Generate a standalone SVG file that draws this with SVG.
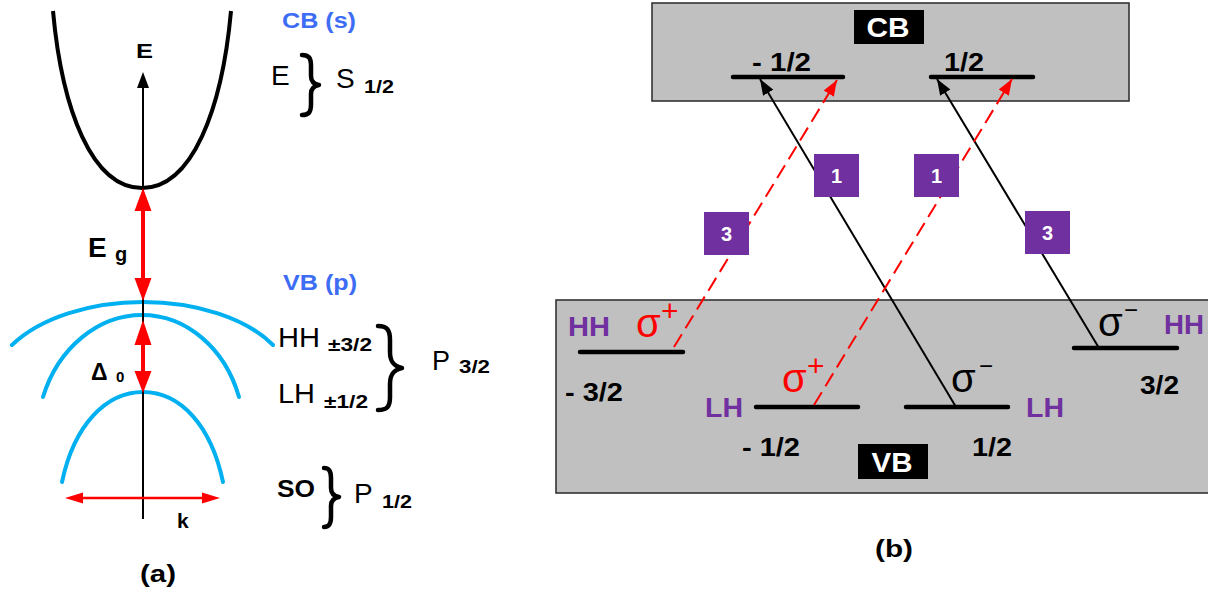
<svg xmlns="http://www.w3.org/2000/svg" width="1208" height="592" viewBox="0 0 1208 592">
<style>
text{font-family:"Liberation Sans",Arial,sans-serif;}
.b{font-weight:bold;}
.blue{fill:#3d6cf5;font-weight:bold;font-size:22px;}
.purple{fill:#7030a0;font-weight:bold;font-size:28px;}
.num{fill:#000;font-weight:bold;font-size:25px;}
.sig{fill:#ff0000;font-size:40px;}
.sigb{fill:#000;font-size:40px;}
.lvl{stroke:#000;stroke-width:4.5;stroke-linecap:round;fill:none;}
.band{fill:#c0c0c0;stroke:#333;stroke-width:1.6;}
.arc{fill:none;stroke:#00b0f0;stroke-width:4;stroke-linecap:round;}
.brace{fill:none;stroke:#000;stroke-width:4.5;stroke-linecap:round;stroke-linejoin:round;}
.blk{stroke:#000;stroke-width:2;fill:none;}
.red{stroke:#ff0000;stroke-width:2;fill:none;stroke-dasharray:15 7;}
.badge{fill:#7030a0;}
.bnum{fill:#fff;font-weight:bold;font-size:20px;text-anchor:middle;}
</style>
<defs>
<marker id="ab" markerUnits="userSpaceOnUse" markerWidth="17" markerHeight="13" refX="16" refY="6" orient="auto"><path d="M0,0 L16,6 L0,12 z" fill="#000"/></marker>
<marker id="ar" markerUnits="userSpaceOnUse" markerWidth="17" markerHeight="13" refX="16" refY="6" orient="auto"><path d="M0,0 L16,6 L0,12 z" fill="#ff0000"/></marker>
</defs>
<rect width="1208" height="592" fill="#fff"/>

<!-- Panel (a) -->
<g id="panel-a">
<g id="cb-curve"><path d="M53,11 C62,110 92,188 142,188 C192,188 222,110 231,11" fill="none" stroke="#000" stroke-width="4"/></g>
<g id="vb-arcs">
<path class="arc" d="M12,345 C40,318 90,302 143,302 C196,302 246,318 273,345"/>
<path class="arc" d="M43,397 C58,348 98,315 142,315 C186,315 225,348 239,397"/>
<path class="arc" d="M62,482 C74,425 106,392 143,392 C180,392 211,425 223,482"/>
</g>
<g id="axis">
<line x1="143" y1="519" x2="143" y2="86" stroke="#000" stroke-width="2"/>
<polygon points="143,72 137,88 149,88" fill="#000"/>
<text class="b" x="136" y="58" font-size="21" textLength="17" lengthAdjust="spacingAndGlyphs">E</text>
</g>
<g id="eg-arrow">
<line x1="143" y1="208" x2="143" y2="280" stroke="#ff0000" stroke-width="4"/>
<polygon points="143,188 134.5,211 151.5,211" fill="#ff0000"/>
<polygon points="143,301 134.5,278 151.5,278" fill="#ff0000"/>
<text class="b" x="88" y="257" font-size="28">E</text>
<text class="b" x="115" y="261" font-size="20">g</text>
</g>
<g id="d0-arrow">
<line x1="143" y1="340" x2="143" y2="375" stroke="#ff0000" stroke-width="4"/>
<polygon points="143,320 134.5,345 151.5,345" fill="#ff0000"/>
<polygon points="143,393 134.5,371 151.5,371" fill="#ff0000"/>
<text class="b" x="91" y="380" font-size="23">Δ</text>
<text class="b" x="116" y="382" font-size="15">0</text>
</g>
<g id="k-arrow">
<line x1="80" y1="498" x2="205" y2="498" stroke="#ff0000" stroke-width="2.5"/>
<polygon points="65,498 83,492.5 83,503.5" fill="#ff0000"/>
<polygon points="220,498 202,492.5 202,503.5" fill="#ff0000"/>
<text class="b" x="177" y="528" font-size="21">k</text>
</g>
<g id="label-cb">
<text class="blue" x="282" y="28" textLength="74" lengthAdjust="spacingAndGlyphs">CB (s)</text>
<text x="271" y="85" font-size="28">E</text>
<path class="brace" d="M302,55 C309,55 311,58 311,66 L311,76 C311,81 313,84 319,85 C313,86 311,89 311,94 L311,104 C311,112 309,115 302,115"/>
<text x="336" y="88" font-size="28">S</text>
<text class="b" x="364" y="93" font-size="18" textLength="30" lengthAdjust="spacingAndGlyphs">1/2</text>
</g>
<g id="label-vb">
<text class="blue" x="283" y="290" textLength="74" lengthAdjust="spacingAndGlyphs">VB (p)</text>
</g>
<g id="label-hh-lh">
<text x="278" y="347" font-size="28" textLength="42" lengthAdjust="spacingAndGlyphs">HH</text>
<text class="b" x="328" y="351" font-size="18" textLength="44" lengthAdjust="spacingAndGlyphs">±3/2</text>
<text x="278" y="403" font-size="27" textLength="37" lengthAdjust="spacingAndGlyphs">LH</text>
<text class="b" x="324" y="408" font-size="18" textLength="44" lengthAdjust="spacingAndGlyphs">±1/2</text>
<path class="brace" d="M378,326 C387,326 390,330 390,340 L390,352 C390,361 393,366 402,368 C393,370 390,375 390,384 L390,397 C390,407 387,410 378,410"/>
<text x="432" y="370" font-size="27">P</text>
<text class="b" x="459" y="373" font-size="18" textLength="31" lengthAdjust="spacingAndGlyphs">3/2</text>
</g>
<g id="label-so">
<text class="b" x="277" y="497" font-size="23" textLength="38" lengthAdjust="spacingAndGlyphs">SO</text>
<path class="brace" d="M324,468 C329,468 331,471 331,478 L331,488 C331,493 333,496 339,497 C333,498 331,501 331,506 L331,517 C331,524 329,527 324,527"/>
<text x="354" y="503" font-size="28">P</text>
<text class="b" x="382" y="508" font-size="18" textLength="30" lengthAdjust="spacingAndGlyphs">1/2</text>
</g>
<text class="b" x="140" y="582" font-size="24" textLength="36" lengthAdjust="spacingAndGlyphs">(a)</text>
</g>

<!-- Panel (b) -->
<g id="cb-band">
<rect class="band" x="652" y="3" width="477" height="98"/>
<rect x="854" y="10" width="70" height="34" fill="#000"/>
<text class="b" x="888" y="37" font-size="27" fill="#fff" text-anchor="middle" textLength="43" lengthAdjust="spacingAndGlyphs">CB</text>
</g>
<g id="vb-band">
<rect class="band" x="556" y="300" width="660" height="193"/>
<rect x="858" y="444" width="70" height="35" fill="#000"/>
<text class="b" x="892" y="472" font-size="28" fill="#fff" text-anchor="middle" textLength="41" lengthAdjust="spacingAndGlyphs">VB</text>
</g>
<g id="cb-m12">
<line class="lvl" x1="733" y1="77" x2="843" y2="77"/>
<text class="num" x="752" y="71" font-size="24" textLength="59" lengthAdjust="spacingAndGlyphs">- 1/2</text>
</g>
<g id="cb-p12">
<line class="lvl" x1="931" y1="77" x2="1033" y2="77"/>
<text class="num" x="944" y="71" font-size="24" textLength="40" lengthAdjust="spacingAndGlyphs">1/2</text>
</g>
<g id="hh-m32">
<line class="lvl" x1="580" y1="352" x2="683" y2="352"/>
<text class="purple" x="568" y="336" textLength="42" lengthAdjust="spacingAndGlyphs">HH</text>
<text class="num" x="565" y="401" textLength="58" lengthAdjust="spacingAndGlyphs">- 3/2</text>
</g>
<g id="lh-m12">
<line class="lvl" x1="756" y1="407" x2="858" y2="407"/>
<text class="purple" x="705" y="417" textLength="38" lengthAdjust="spacingAndGlyphs">LH</text>
<text class="num" x="742" y="456" textLength="58" lengthAdjust="spacingAndGlyphs">- 1/2</text>
</g>
<g id="lh-p12">
<line class="lvl" x1="906" y1="407" x2="1008" y2="407"/>
<text class="purple" x="1026" y="417" textLength="38" lengthAdjust="spacingAndGlyphs">LH</text>
<text class="num" x="972" y="456" textLength="40" lengthAdjust="spacingAndGlyphs">1/2</text>
</g>
<g id="hh-p32">
<line class="lvl" x1="1074" y1="348" x2="1177" y2="348"/>
<text class="purple" x="1164" y="334" textLength="40" lengthAdjust="spacingAndGlyphs">HH</text>
<text class="num" x="1140" y="394" textLength="39" lengthAdjust="spacingAndGlyphs">3/2</text>
</g>

<g id="connectors">
<line class="blk" x1="956" y1="407" x2="760" y2="79" marker-end="url(#ab)"/>
<line class="blk" x1="1099" y1="348" x2="937" y2="79" marker-end="url(#ab)"/>
<line class="red" x1="674" y1="347" x2="837" y2="80" marker-end="url(#ar)"/>
<line class="red" x1="814" y1="405" x2="1012" y2="79" marker-end="url(#ar)"/>
</g>

<g id="sigma-labels">
<text class="sig" x="636" y="337">σ</text>
<text x="661" y="321" font-size="30" fill="#ff0000">+</text>
<text class="sig" x="782" y="392">σ</text>
<text x="807" y="376" font-size="30" fill="#ff0000">+</text>
<text class="sigb" x="951" y="392">σ</text>
<text x="979" y="374" font-size="24">−</text>
<text class="sigb" x="1098" y="336">σ</text>
<text x="1124" y="318" font-size="24">−</text>
</g>

<g id="badge-1a"><rect class="badge" x="814" y="154" width="45" height="43"/><text class="bnum" x="836.5" y="183">1</text></g>
<g id="badge-3a"><rect class="badge" x="704" y="212" width="45" height="43"/><text class="bnum" x="726.5" y="241">3</text></g>
<g id="badge-1b"><rect class="badge" x="914" y="154" width="45" height="43"/><text class="bnum" x="936.5" y="183">1</text></g>
<g id="badge-3b"><rect class="badge" x="1025" y="211" width="45" height="43"/><text class="bnum" x="1047.5" y="240">3</text></g>

<text class="b" x="875" y="557" font-size="24" textLength="38" lengthAdjust="spacingAndGlyphs">(b)</text>
</svg>
